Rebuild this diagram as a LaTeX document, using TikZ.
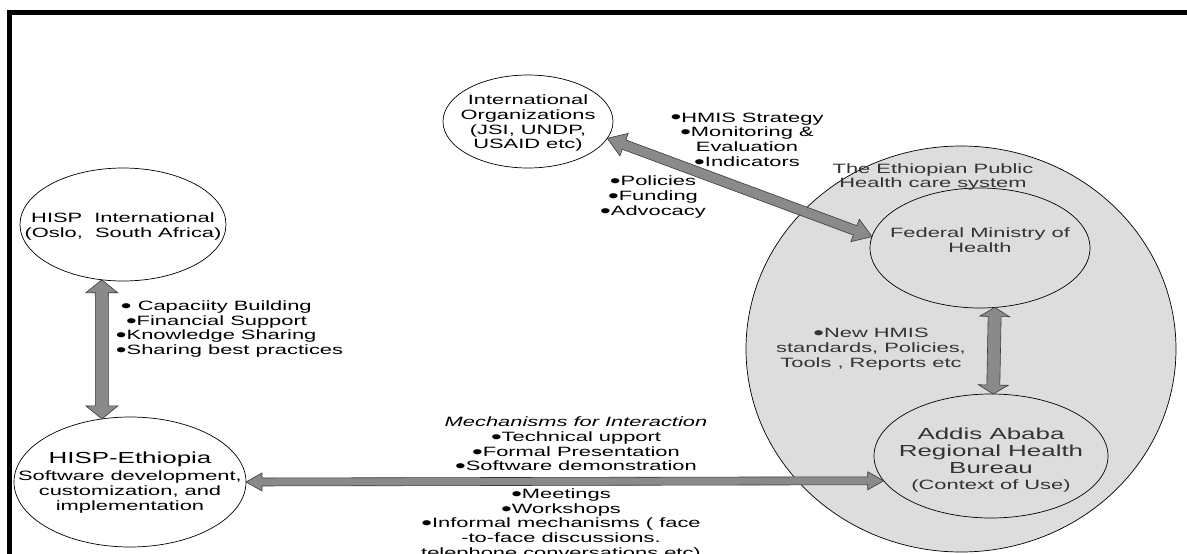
\documentclass[tikz,border=0pt]{standalone}
\usepackage{fontspec}
\setmainfont{Liberation Sans}[FakeStretch=1.62]
\usetikzlibrary{shapes.geometric,calc}
\definecolor{arrowfill}{HTML}{8A8A8A}
\definecolor{arrowedge}{HTML}{3A3A3A}
\definecolor{sysfill}{HTML}{DDDDDD}
\definecolor{intext}{HTML}{333333}
\newcommand{\ztext}[2][0pt]{\raisebox{#1}[0pt][0pt]{\makebox[0pt][c]{\begin{tabular}{@{}c@{}}#2\end{tabular}}}}
\newcommand{\bigf}{\fontsize{16}{18}\selectfont}
\newcommand{\bul}{\raisebox{-0.14em}[0.5em][0pt]{\scalebox{1.4}{\textbullet}}}
\tikzset{
  barrow/.style n args={3}{draw=arrowedge, fill=arrowfill, line width=0.6pt, line join=miter,
    to path={let \p1=(\tikztostart), \p2=(\tikztotarget), \n1={atan2(\y2-\y1,\x2-\x1)} in
      -- ($(\p1)+(\n1:#3)+({\n1+90}:#2)$)
      -- ($(\p1)+(\n1:#3)+({\n1+90}:#1)$)
      -- ($(\p2)+({\n1+180}:#3)+({\n1+90}:#1)$)
      -- ($(\p2)+({\n1+180}:#3)+({\n1+90}:#2)$)
      -- (\p2)
      -- ($(\p2)+({\n1+180}:#3)+({\n1-90}:#2)$)
      -- ($(\p2)+({\n1+180}:#3)+({\n1-90}:#1)$)
      -- ($(\p1)+(\n1:#3)+({\n1-90}:#1)$)
      -- ($(\p1)+(\n1:#3)+({\n1-90}:#2)$)
      -- cycle}},
  ell/.style={ellipse, draw, line width=0.7pt, inner sep=0pt, outer sep=0pt},
  lbl/.style={align=center}
}
\begin{document}
\begin{tikzpicture}[x=1pt,y=1pt,
  every node/.style={font=\fontsize{13.5}{14.7}\selectfont, inner sep=0pt, outer sep=0pt}]
\useasboundingbox (0,0) rectangle (1187,-554);
\fill[white] (0,0) rectangle (1187,-554);
\draw[line width=4.5pt] (9.5,-700) |- (1300,-12.5);

% ellipses
\node[ell, fill=sysfill, minimum width=430pt, minimum height=406pt] (sys) at (961,-349) {};
\node[ell, minimum width=220pt, minimum height=120pt, text=intext] (fmoh) at (980,-248)
  {\ztext[2.5pt]{Federal Ministry of\\Health}};
\node[ell, minimum width=234pt, minimum height=124pt, text=intext] (addis) at (991,-456)
  {\ztext[-8.5pt]{\bigf Addis Ababa\\[1.7pt]\bigf Regional Health\\[1.7pt]\bigf Bureau\\[1.3pt](Context of Use)}};
\node[ell, minimum width=170pt, minimum height=93pt] (intorg) at (528,-121.5)
  {\ztext[-6pt]{International\\Organizations\\(JSI, UNDP,\\USAID etc)}};
\node[ell, minimum width=206pt, minimum height=113pt] (hispint) at (123,-224.5)
  {\ztext[-6.5pt]{HISP\ \ International\\(Oslo,\ \ South Africa)}};
\node[ell, minimum width=232pt, minimum height=130pt] (eth) at (130,-482)
  {\ztext[-5pt]{\bigf HISP-Ethiopia\\[2.3pt]Software development,\\customization, and\\implementation}};

% texts
\node[lbl, text=intext] (syslbl) at (933,-177) {The Ethiopian Public\\Health care system};
\node[lbl] (hmis) at (747,-139.5) {\bul HMIS Strategy\\\bul Monitoring \&\\Evaluation\\\bul Indicators};
\node[lbl] (pol) at (653,-197) {\bul Policies\\\bul Funding\\\bul Advocacy};
\node[align=left, anchor=west] (cap) at (116,-329)
  {\hspace*{5pt}\bul\ Capaciity Building\\\hspace*{10pt}\bul Financial Support\\\bul Knowledge Sharing\\\bul Sharing best practices};
\node[lbl] (mech) at (576,-444) {\textit{Mechanisms for Interaction}\\\bul Technical upport\\\bul Formal Presentation\\\bul Software demonstration};
\node[lbl] (mech2) at (561,-524.5) {\bul Meetings\\\bul Workshops\\\bul Informal mechanisms ( face\\-to-face discussions.\\telephone conversations etc)};
\node[lbl, text=intext] (newhmis) at (871,-349) {\bul New HMIS\\standards, Policies,\\Tools , Reports etc};

% connectors
\draw[barrow={6.5pt}{16pt}{13pt}] (hispint.-111.6) to (eth.114.7);
\draw[barrow={5pt}{12pt}{18pt}] (intorg.-12.5) to (fmoh.174);
\draw[barrow={6.5pt}{15pt}{9pt}] (fmoh.-76.8) to (addis.88);
\draw[barrow={4pt}{9pt}{16pt}] (eth.0) to (addis.193.5);
\end{tikzpicture}
\end{document}
